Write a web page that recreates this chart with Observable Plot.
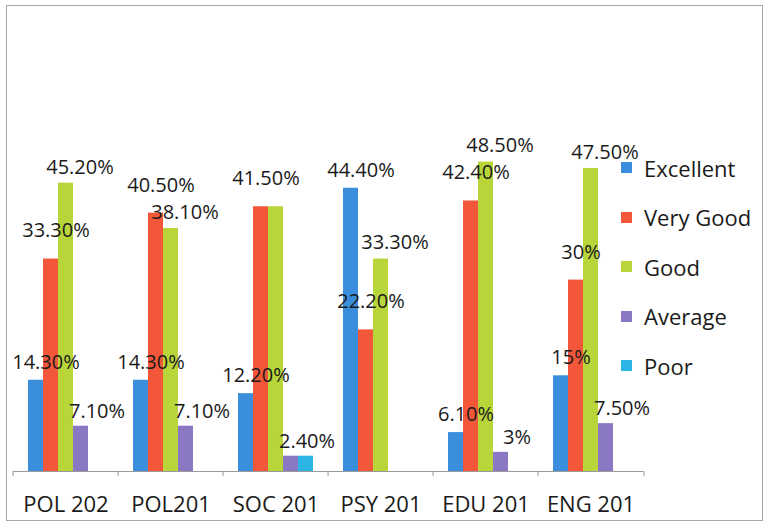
<!DOCTYPE html>
<html>
<head>
<meta charset="utf-8">
<script src="https://cdn.jsdelivr.net/npm/d3@7"></script>
<script src="https://cdn.jsdelivr.net/npm/@observablehq/plot@0.6"></script>
<style>
  html, body { margin: 0; padding: 0; background: #fff; }
  #wrap { position: relative; width: 774px; height: 531px; overflow: hidden; font-family: 'Open Sans', sans-serif; }
  #frame { position: absolute; left: 6px; top: 5px; width: 757px; height: 516px; border: 1.5px solid #a8a8a8; box-sizing: border-box; }
  #chart { position: absolute; left: 0; top: 0; }
  #legend { position: absolute; left: 621px; top: 143px; }
  .item { display: flex; align-items: center; height: 49.5px; font-size: 22px; color: #1a1a1a; }
  .sw { width: 11px; height: 11px; margin-right: 12px; }
</style>
</head>
<body>
<div id="wrap">
  <div id="frame"></div>
  <div id="chart"></div>
  <div id="legend"></div>
</div>
<script>
const courses = ["POL 202", "POL201", "SOC 201", "PSY 201", "EDU 201", "ENG 201"];
const ratings = ["Excellent", "Very Good", "Good", "Average", "Poor"];
const excellent = [14.3, 14.3, 12.2, 44.4, 6.1, 15];
const veryGood  = [33.3, 40.5, 41.5, 22.2, 42.4, 30];
const good      = [45.2, 38.1, 41.5, 33.3, 48.5, 47.5];
const average   = [7.1, 7.1, 2.4, 0, 3, 7.5];
const poor      = [0, 0, 2.4, 0, 0, 0];
const colors = ["#3a8edb", "#f2573a", "#b8d53a", "#8b78c4", "#2bb5e5"];

const series = [excellent, veryGood, good, average, poor];
const rows = [];
courses.forEach((c, i) => ratings.forEach((r, j) => rows.push({course: c, rating: r, value: series[j][i]})));

// one label per visible bar; an equal neighbour in the same group shares its label
const labelRows = rows.filter((d, k) => d.value > 0 && !(k % 5 > 0 && rows[k - 1].value === d.value));
const fmt = v => Number.isInteger(v) ? v + "%" : v.toFixed(2) + "%";

// label offset style per series (dx, dy in px)
const off = {"Excellent": [10, -18], "Very Good": [5, -28], "Good": [14, -16], "Average": [16, -15], "Poor": [16, -15]};

const W = 774, H = 531, mL = 10, mR = 129, mT = 152, mB = 60;
const step = (W - mL - mR) / courses.length;

const chart = Plot.plot({
  width: W, height: H,
  marginLeft: mL, marginRight: mR, marginTop: mT, marginBottom: mB,
  style: {fontFamily: "'Open Sans', sans-serif", background: "transparent", overflow: "visible", color: "#1a1a1a"},
  fx: {domain: courses, padding: 0, label: null},
  x: {domain: ratings, paddingInner: 0, paddingOuter: 0.9, axis: null},
  y: {domain: [0, 50], axis: null},
  color: {domain: ratings, range: colors},
  marks: [
    Plot.barY(rows, {fx: "course", x: "rating", y: "value", fill: "rating"}),
    Plot.ruleY([0], {stroke: "#9a9a9a", strokeWidth: 1.2}),
    ...ratings.map(r => Plot.text(labelRows.filter(d => d.rating === r), {
      fx: "course", x: "rating", y: "value", text: d => fmt(d.value),
      dx: off[r][0], dy: off[r][1], fontSize: 20, fill: "#1a1a1a"
    })),
    Plot.axisFx({anchor: "bottom", tickSize: 0, tickPadding: 25, fontSize: 22, label: null, color: "#1a1a1a"}),
    Plot.axisFx({anchor: "bottom", tickSize: 5, tickFormat: () => "", dx: -step / 2, label: null, stroke: "#9a9a9a"}),
    Plot.axisFx({anchor: "bottom", ticks: [courses[courses.length - 1]], tickSize: 5, tickFormat: () => "", dx: step / 2, label: null, stroke: "#9a9a9a"})
  ]
});
document.getElementById("chart").appendChild(chart);

const legend = document.getElementById("legend");
ratings.forEach((r, i) => {
  const item = document.createElement("div");
  item.className = "item";
  const sw = document.createElement("span");
  sw.className = "sw";
  sw.style.background = colors[i];
  const t = document.createElement("span");
  t.textContent = r;
  item.appendChild(sw);
  item.appendChild(t);
  legend.appendChild(item);
});
</script>
</body>
</html>
